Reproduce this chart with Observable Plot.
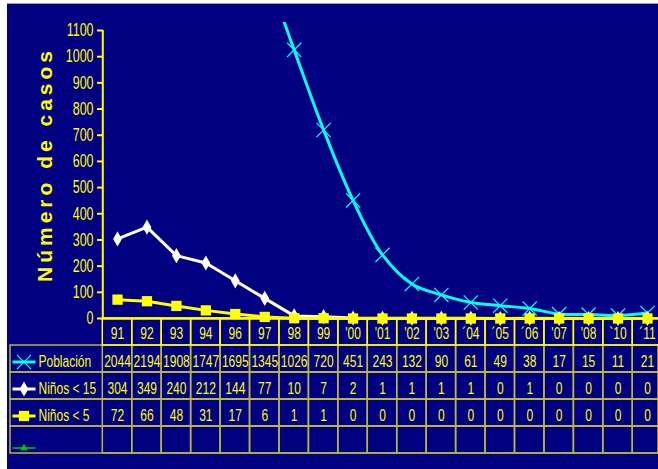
<!DOCTYPE html>
<html><head><meta charset="utf-8">
<script src="https://cdn.jsdelivr.net/npm/d3@7"></script>
<script src="https://cdn.jsdelivr.net/npm/@observablehq/plot@0.6"></script>
<style>
html,body{margin:0;padding:0;background:#fff;width:658px;height:469px;overflow:hidden}
#bg{position:absolute;left:7px;top:3px;width:651px;height:466px;background:#000080;border-top:1px solid #9a9ac8;}
#table,#chart{position:absolute;left:0;top:0}
svg{overflow:visible}
</style></head><body>
<div id="bg"></div>
<div id="table"></div>
<div id="chart"></div>
<script>
// ---- data ----
const categories = ["91","92","93","94","96","97","98","99","'00","'01","'02","'03","´04","´05","´06","'07","'08","`10","´11"];
const poblacion = [2044,2194,1908,1747,1695,1345,1026,720,451,243,132,90,61,49,38,17,15,11,21];
const ninos15 = [304,349,240,212,144,77,10,7,2,1,1,1,1,0,1,0,0,0,0];
const ninos5 = [72,66,48,31,17,6,1,1,0,0,0,0,0,0,0,0,0,0,0];
const seriesNames = ["Población","Niños < 15","Niños < 5",""];
const yTicks = [0,100,200,300,400,500,600,700,800,900,1000,1100];
const yTitle = "Número de casos";

// ---- layout / style ----
const W = 658;
const yellow = "#ffff00", cyan = "#00ffff", green = "#00c800", grid = "#b8b840";
const font = "'Liberation Sans',Arial,sans-serif";
const bandLeft = 102.3, bandRight = 661.7;
const step = (bandRight - bandLeft) / categories.length;

const rows = categories.map((c, i) => ({cat: c, pob: poblacion[i], n15: ninos15[i], n5: ninos5[i]}));

// ---- chart ----
const chart = Plot.plot({
  width: W, height: 330,
  marginTop: 22, marginBottom: 12, marginLeft: 103, marginRight: 0,
  style: {background: "transparent", color: yellow, fontFamily: font, overflow: "visible"},
  x: {type: "point", domain: categories, range: [bandLeft + step / 2, bandRight - step / 2], padding: 0, round: false, axis: null},
  y: {domain: [0, 1100], range: [318, 30], axis: null},
  marks: [
    Plot.axisY(yTicks, {tickSize: 6, tickPadding: 4, strokeWidth: 2, fontSize: 18, tickFormat: d => String(d), label: null}),
    Plot.ruleX([categories[0]], {y1: 0, y2: yTicks[yTicks.length - 1], dx: -step / 2, stroke: yellow, strokeWidth: 2}),
    Plot.ruleY([0], {stroke: yellow, strokeWidth: 2.5}),
    Plot.text([yTitle], {text: d => d, frameAnchor: "left", textAnchor: "middle", dx: -58, dy: -6, rotate: -90, fill: yellow, fontSize: 21, fontWeight: "bold"}),
    Plot.line(rows, {x: "cat", y: "pob", stroke: cyan, strokeWidth: 3, curve: "catmull-rom", clip: true}),
    Plot.dot(rows, {x: "cat", y: "pob", symbol: "times", r: 6.5, stroke: cyan, strokeWidth: 1.2, clip: true}),
    Plot.line(rows, {x: "cat", y: "n15", stroke: "#ffffff", strokeWidth: 3}),
    Plot.dot(rows, {x: "cat", y: "n15", symbol: "diamond", r: 4.6, fill: "#ffffff", stroke: "none"}),
    Plot.line(rows, {x: "cat", y: "n5", stroke: yellow, strokeWidth: 3}),
    Plot.dot(rows, {x: "cat", y: "n5", symbol: "square", r: 5.8, fill: yellow, stroke: "none"})
  ]
});

// ---- table ----
const rowKeys = ["hdr", "pob", "n15", "n5", "blank"];
const seriesValues = [poblacion, ninos15, ninos5, categories.map(() => "")];
const cells = [];
seriesValues.forEach((vals, r) => categories.forEach((c, i) => cells.push({cat: c, row: rowKeys[r + 1], value: String(vals[i])})));

const hline = {draw(ctx, size) { const r = Math.sqrt(size / Math.PI); ctx.moveTo(-r, 0); ctx.lineTo(r, 0); }};
const legendSpec = [
  {key: "pob", color: cyan, marker: "times", mr: 6.5, mfill: "none", mstroke: cyan, lw: 3, dy: 0},
  {key: "n15", color: "#ffffff", marker: "diamond", mr: 4.6, mfill: "#ffffff", mstroke: "none", lw: 3, dy: 0},
  {key: "n5", color: yellow, marker: "square", mr: 5.8, mfill: yellow, mstroke: "none", lw: 3, dy: 0},
  {key: "blank", color: green, marker: "triangle", mr: 2.8, mfill: green, mstroke: "none", lw: 1.5, dy: 5}
];
const legendMarks = [];
legendSpec.forEach((s, i) => {
  legendMarks.push(Plot.dot([s.key], {y: d => d, frameAnchor: "left", dx: 13.5, dy: 3 + s.dy, symbol: hline, r: 11.5, fill: "none", stroke: s.color, strokeWidth: s.lw}));
  legendMarks.push(Plot.dot([s.key], {y: d => d, frameAnchor: "left", dx: 13.5, dy: 3 + s.dy, symbol: s.marker, r: s.mr, fill: s.mfill, stroke: s.mstroke, strokeWidth: 1.2}));
  legendMarks.push(Plot.text([s.key], {y: d => d, text: () => seriesNames[i], frameAnchor: "left", dx: 28, dy: 3, textAnchor: "start", fill: yellow, fontSize: 16}));
});

const table = Plot.plot({
  width: W, height: 469,
  marginTop: 318, marginBottom: 16, marginLeft: 10, marginRight: 0,
  style: {background: "transparent", color: yellow, fontFamily: font, overflow: "visible"},
  x: {type: "band", domain: categories, range: [bandLeft, bandRight], padding: 0, round: false, axis: null},
  y: {type: "band", domain: rowKeys, range: [318, 453], padding: 0, round: false, axis: null},
  marks: [
    Plot.cell(rowKeys.slice(1), {y: d => d, fill: "none", stroke: grid, strokeWidth: 1.5}),
    Plot.cell(cells, {x: "cat", y: "row", fill: "none", stroke: grid, strokeWidth: 1.5}),
    Plot.cell(categories, {x: d => d, y: () => "hdr", fill: "none", stroke: yellow, strokeWidth: 1.5}),
    Plot.text(categories, {x: d => d, y: () => "hdr", text: d => d, dy: 1.5, fill: yellow, fontSize: 16}),
    Plot.text(cells, {x: "cat", y: "row", text: "value", dy: 3, fill: yellow, fontSize: 16}),
    ...legendMarks
  ]
});
document.getElementById("table").appendChild(table);
document.getElementById("chart").appendChild(chart);

// condensed look (Arial Narrow-like) for the small labels
function condense(svg, f) {
  d3.select(svg).selectAll("text").each(function() {
    if (this.textContent === yTitle) { d3.select(this).style("letter-spacing", "4px"); return; }
    const w = this.getComputedTextLength();
    if (w > 0) d3.select(this).attr("textLength", w * f).attr("lengthAdjust", "spacingAndGlyphs");
  });
}
condense(chart, 0.69);
condense(table, 0.75);
</script>
</body></html>
